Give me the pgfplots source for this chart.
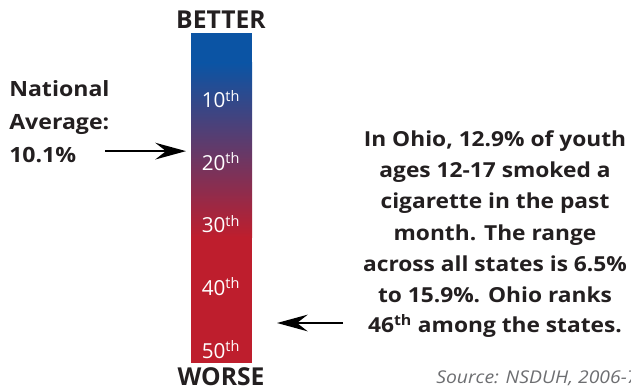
\documentclass[border=0pt]{standalone}
\usepackage{pgfplots}
\pgfplotsset{compat=1.18}
\usepackage{fontspec}
\setmainfont{Open Sans}
\newfontfamily\bodyfont[FakeStretch=1.1]{Open Sans}
\usetikzlibrary{arrows.meta}
\definecolor{rbblue}{HTML}{0B54A4}
\definecolor{rbred}{HTML}{BE1E2D}
\definecolor{srcgray}{HTML}{6D6E71}
\definecolor{txt}{HTML}{231F20}
\begin{document}
\begin{tikzpicture}
\begin{axis}[
  name=ax,
  width=473.25pt, height=291pt, scale only axis,
  hide axis, clip=false,
  xmin=0, xmax=631,
  ymin=-6.08, ymax=56, y dir=reverse,
]
% gradient bar (rank scale: 0 at top, 51 at bottom)
\addplot[draw=none, fill=rbblue] coordinates {(191,-0.8) (252,-0.8) (252,4.2) (191,4.2)} -- cycle;
\addplot[draw=none, top color=rbblue, bottom color=rbred] coordinates {(191,4) (252,4) (252,31.9) (191,31.9)} -- cycle;
\addplot[draw=none, fill=rbred] coordinates {(191,31.8) (252,31.8) (252,52) (191,52)} -- cycle;
% rank labels
\foreach \r in {10,20,30,40,50}{
  \edef\temp{\noexpand\node[anchor=base, text=white, font=\noexpand\fontsize{15.5}{18}\noexpand\selectfont, inner sep=0pt] at (axis cs:221,\r+1.2) {\r\noexpand\textsuperscript{th}};}
  \temp
}
\node[anchor=base, text=txt, font=\fontsize{18.5}{20}\selectfont\bfseries, inner sep=0pt] at (axis cs:221,-1.44) {BETTER};
\node[anchor=base, text=txt, font=\fontsize{18.5}{20}\selectfont\bfseries, inner sep=0pt] at (axis cs:221,55.6) {WORSE};
% national average
\begin{scope}[every node/.style={anchor=base west, text=txt, font=\bodyfont\fontsize{15.75}{18}\selectfont\bfseries, inner sep=0pt}]
\node at (axis cs:9,9.44) {National};
\node at (axis cs:9,14.72) {Average:};
\node at (axis cs:9,20.0) {10.1\%};
\end{scope}
\draw[line width=1.5pt, -{Stealth[length=23pt, width=12.5pt, inset=8pt]}] (axis cs:105,18.1) -- (axis cs:186,18.1);
% Ohio
\draw[line width=1.5pt, -{Stealth[length=23pt, width=12.5pt, inset=8pt]}] (axis cs:343,45.6) -- (axis cs:277,45.6);
\begin{scope}[every node/.style={anchor=base, text=txt, font=\bodyfont\fontsize{15.5}{18}\selectfont\bfseries, inner sep=0pt}]
\node at (axis cs:495,17.44) {In Ohio, 12.9\% of youth};
\node at (axis cs:495,22.40) {ages 12-17 smoked a};
\node at (axis cs:495,27.36) {cigarette in the past};
\node at (axis cs:495,32.32) {month. The range};
\node at (axis cs:495,37.28) {across all states is 6.5\%};
\node at (axis cs:495,42.24) {to 15.9\%. Ohio ranks};
\node at (axis cs:495,47.04) {46\textsuperscript{th} among the states.};
\end{scope}
\node[anchor=base west, text=srcgray, font=\bodyfont\fontsize{13.2}{15}\selectfont\itshape, inner sep=0pt] at (axis cs:436,55.2) {Source: NSDUH, 2006-7};
\end{axis}
\pgfresetboundingbox
\path[use as bounding box] (ax.south west) rectangle (ax.north east);
\end{tikzpicture}
\end{document}
